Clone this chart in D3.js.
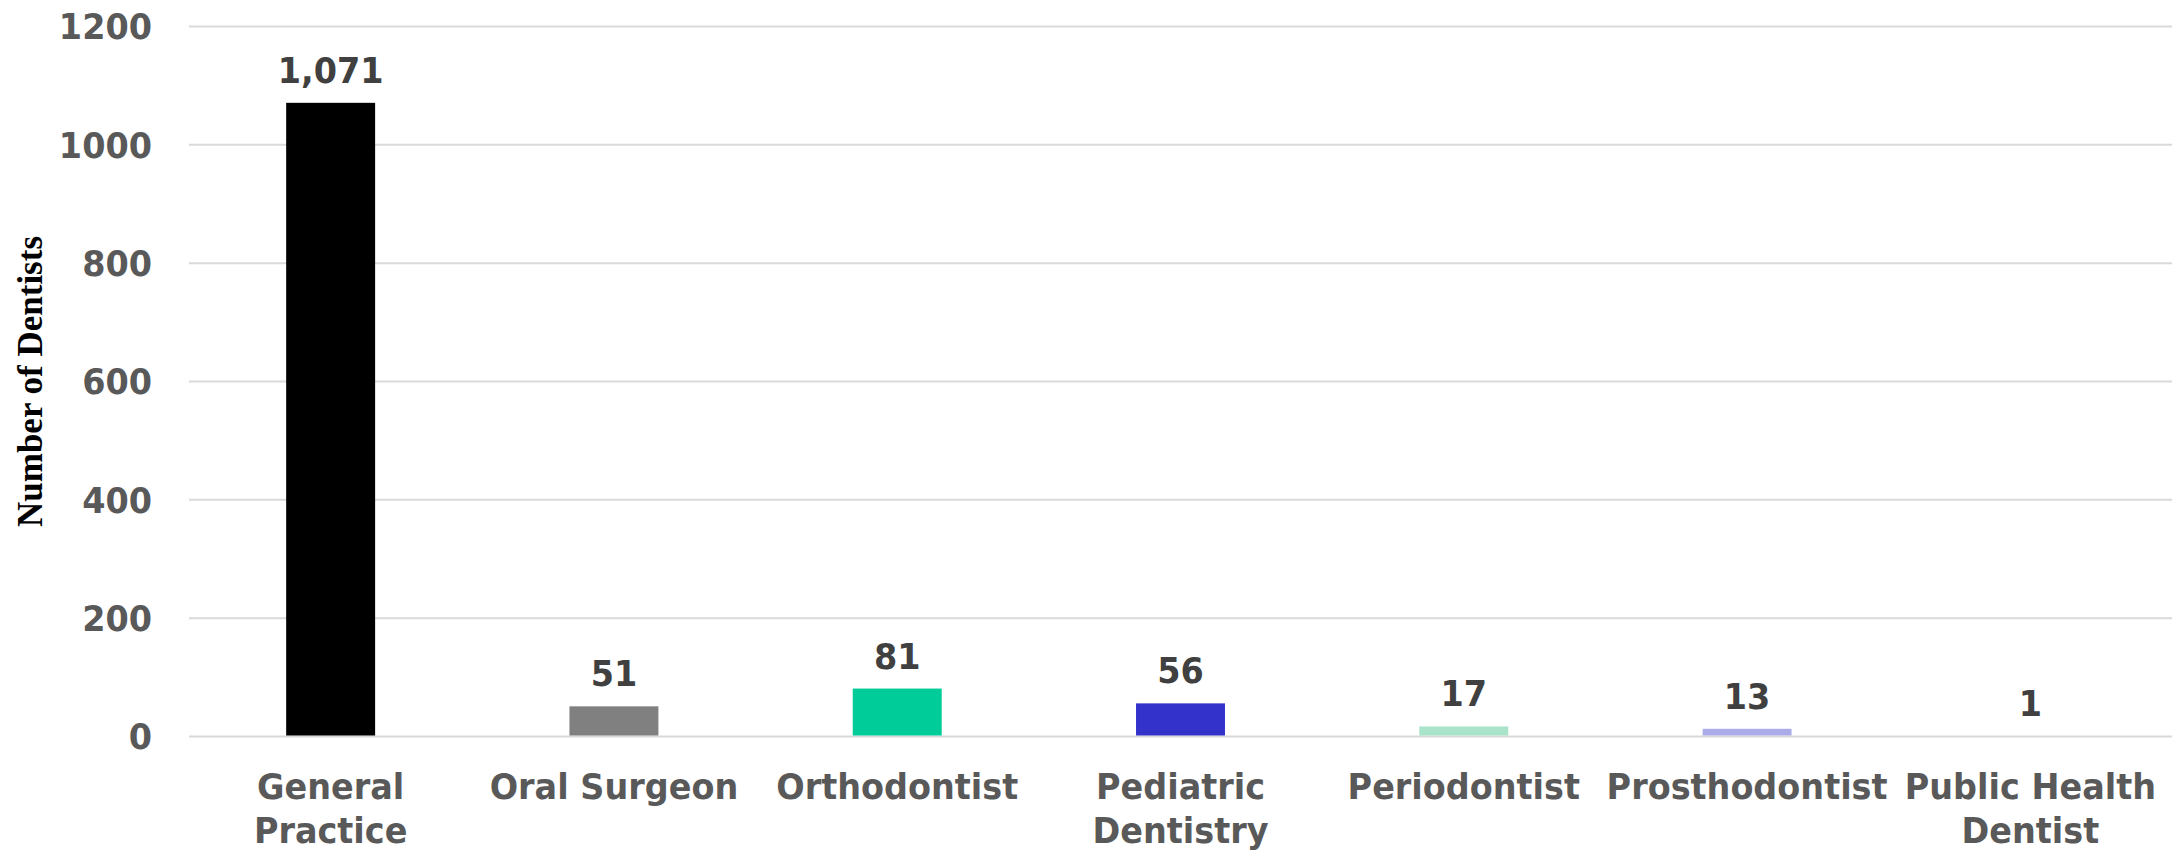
<!DOCTYPE html>
<html>
<head>
<meta charset="utf-8">
<script src="https://cdn.jsdelivr.net/npm/d3@7"></script>
<style>
  html, body { margin: 0; padding: 0; background: #fff; }
  svg { display: block; }
</style>
</head>
<body>
<svg id="chart" width="2183" height="850"></svg>
<script>
const categories = [
  ["General", "Practice"],
  ["Oral Surgeon"],
  ["Orthodontist"],
  ["Pediatric", "Dentistry"],
  ["Periodontist"],
  ["Prosthodontist"],
  ["Public Health", "Dentist"]
];
const values = [1071, 51, 81, 56, 17, 13, 1];
const colors = ["#000000", "#808080", "#00CC99", "#3333CC", "#A9E4CA", "#ABABE9", "#3333CC"];
const yTicks = [0, 200, 400, 600, 800, 1000, 1200];
const yTitle = "Number of Dentists";

const W = 2183, H = 850;
const plot = { left: 189, right: 2172, top: 26.5, bottom: 736.5 };
const FS = 36;          // font size
const SX = 0.93;        // horizontal compression of text

const svg = d3.select("#chart");
const keys = categories.map((c, i) => i);

const x = d3.scaleBand().domain(keys).range([plot.left, plot.right]).paddingInner(0.686).paddingOuter(0.343);
const y = d3.scaleLinear().domain([0, 1200]).range([plot.bottom, plot.top]);

// gridlines
svg.append("g").selectAll("line").data(yTicks).join("line")
  .attr("x1", plot.left).attr("x2", plot.right)
  .attr("y1", d => y(d)).attr("y2", d => y(d))
  .attr("stroke", "#d9d9d9").attr("stroke-width", 2);

// y tick labels via axis
const yAxis = svg.append("g").attr("transform", `translate(${plot.left},0)`)
  .call(d3.axisLeft(y).tickValues(yTicks).tickSize(0).tickPadding(0).tickFormat(d3.format("d")));
yAxis.select(".domain").remove();
yAxis.selectAll(".tick text").each(function() {
  const t = d3.select(this);
  t.attr("x", null).attr("dy", null).attr("font-family", null).attr("font-size", null)
   .attr("text-anchor", "end")
   .attr("dominant-baseline", "central")
   .attr("transform", `translate(-37,0) scale(${SX},1)`)
   .style("font-family", "'DejaVu Sans', Verdana, sans-serif")
   .style("font-weight", "bold").style("font-size", FS + "px").style("fill", "#595959");
});

// bars
svg.append("g").selectAll("rect").data(values).join("rect")
  .attr("x", (d, i) => x(i)).attr("width", x.bandwidth())
  .attr("y", d => y(d)).attr("height", d => y(0) - y(d) - 1)
  .attr("fill", (d, i) => colors[i]);

// value labels
const fmt = d3.format(",");
svg.append("g").selectAll("text").data(values).join("text")
  .attr("transform", (d, i) => `translate(${x(i) + x.bandwidth() / 2},${y(d) - 20}) scale(${SX},1)`)
  .attr("text-anchor", "middle")
  .style("font-family", "'DejaVu Sans', Verdana, sans-serif")
  .style("font-weight", "bold").style("font-size", FS + "px").style("fill", "#404040")
  .text(d => fmt(d));

// category labels
const cat = svg.append("g").selectAll("g").data(categories).join("g")
  .attr("transform", (d, i) => `translate(${x(i) + x.bandwidth() / 2},799) scale(${SX},1)`);
cat.selectAll("text").data(d => d).join("text")
  .attr("y", (d, j) => j * 44)
  .attr("text-anchor", "middle")
  .style("font-family", "'DejaVu Sans', Verdana, sans-serif")
  .style("font-weight", "bold").style("font-size", FS + "px").style("fill", "#595959")
  .text(d => d);

// y title
svg.append("text")
  .attr("transform", `translate(42,${(plot.top + plot.bottom) / 2}) rotate(-90)`)
  .attr("text-anchor", "middle")
  .style("font-family", "'Liberation Serif', 'Times New Roman', serif")
  .style("font-weight", "bold").style("font-size", "35px").style("fill", "#000")
  .text(yTitle);
</script>
</body>
</html>
